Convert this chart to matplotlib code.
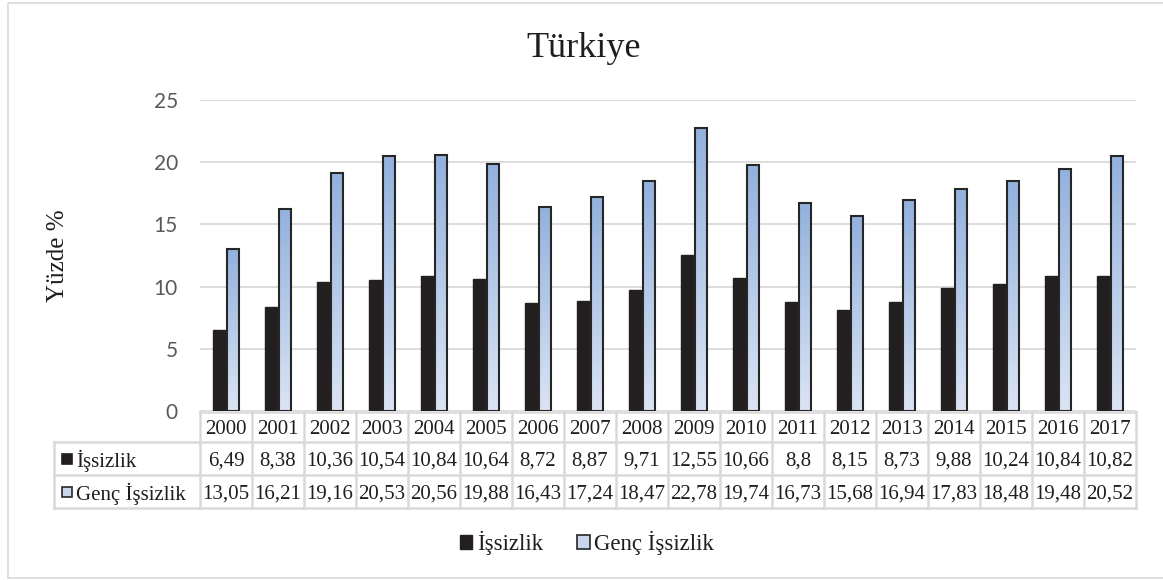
import numpy as np
import matplotlib.pyplot as plt
from matplotlib.colors import LinearSegmentedColormap
from matplotlib.patches import Patch, Rectangle
from matplotlib.transforms import blended_transform_factory

plt.rcParams['font.family'] = ['Liberation Serif', 'DejaVu Serif']

years = [str(y) for y in range(2000, 2018)]
issizlik = [6.49, 8.38, 10.36, 10.54, 10.84, 10.64, 8.72, 8.87, 9.71,
            12.55, 10.66, 8.8, 8.15, 8.73, 9.88, 10.24, 10.84, 10.82]
genc_issizlik = [13.05, 16.21, 19.16, 20.53, 20.56, 19.88, 16.43, 17.24, 18.47,
                 22.78, 19.74, 16.73, 15.68, 16.94, 17.83, 18.48, 19.48, 20.52]
series_names = ['İşsizlik', 'Genç İşsizlik']
yticks = [0, 5, 10, 15, 20, 25]

W, H = 1163, 580
BLACK = '#231f20'
EDGE = '#262626'
TEXT = '#1e1e1e'
GRID = '#d9d9d9'
blue_grad = LinearSegmentedColormap.from_list('blue_grad', ['#dbe4f4', '#93b1dd'])


def fmt(v):
    return f"{v:g}".replace('.', ',')


fig = plt.figure(figsize=(W / 100, H / 100), dpi=100)
ax = fig.add_axes([200 / W, (H - 411) / H, 936 / W, 311 / H])

x = np.arange(len(years))
bw = 0.24
off = 0.135

ax.bar(x - off, issizlik, bw, color=BLACK, edgecolor=BLACK, lw=1, zorder=3)
blue_bars = ax.bar(x + off, genc_issizlik, bw, color='none', edgecolor=EDGE,
                   lw=1.5, zorder=4)

# vertical gradient inside each youth bar (darker at the top)
grad = np.linspace(0, 1, 256).reshape(-1, 1)
for rect in blue_bars:
    x0 = rect.get_x()
    h = rect.get_height()
    im = ax.imshow(grad, extent=[x0, x0 + rect.get_width(), 0, h], origin='lower',
                   aspect='auto', cmap=blue_grad, zorder=3.5)
    im.set_clip_path(rect)

ax.set_xlim(-0.5, len(years) - 0.5)
ax.set_ylim(0, 25)
ax.set_yticks(yticks)
ax.set_xticks([])
ax.tick_params(axis='y', length=0, pad=16, labelsize=15, labelcolor='#595959')
for lbl in ax.get_yticklabels():
    lbl.set_family('Lato')
ax.grid(axis='y', color=GRID, lw=1.3)
ax.set_axisbelow(True)
for s in ax.spines.values():
    s.set_visible(False)

fig.text(584 / W, 1 - 57 / H, 'Türkiye', fontsize=26, ha='center', va='baseline',
         color=TEXT)
fig.text(58 / W, 1 - 256 / H, 'Yüzde %', fontsize=18, rotation=90,
         ha='center', va='center', color=TEXT)

# data table under the bars
over = fig.add_axes([0, 0, 1, 1])
over.set_xlim(0, W)
over.set_ylim(H, 0)
over.axis('off')
over.patch.set_visible(False)
tr = blended_transform_factory(ax.transData, over.transData)

rows_y = [412, 442, 475, 508]
lw_cell = 1.8
for i in range(len(years) + 1):
    over.plot([i - 0.5, i - 0.5], [rows_y[0], rows_y[-1]], color=GRID, lw=lw_cell,
              transform=tr, solid_capstyle='projecting')
over.plot([200, 1136], [rows_y[0]] * 2, color=GRID, lw=lw_cell)
for yy in rows_y[1:]:
    over.plot([54, 1136], [yy, yy], color=GRID, lw=lw_cell)
over.plot([54, 54], [rows_y[1], rows_y[-1]], color=GRID, lw=lw_cell)

for i, yr in enumerate(years):
    over.text(i, (rows_y[0] + rows_y[1]) / 2, yr, transform=tr, fontsize=15,
              ha='center', va='center_baseline', color=TEXT)
    over.text(i, (rows_y[1] + rows_y[2]) / 2, fmt(issizlik[i]), transform=tr,
              fontsize=15, ha='center', va='center_baseline', color=TEXT)
    over.text(i, (rows_y[2] + rows_y[3]) / 2, fmt(genc_issizlik[i]), transform=tr,
              fontsize=15, ha='center', va='center_baseline', color=TEXT)

row_styles = [dict(fc=BLACK, ec=BLACK), dict(fc='#c9d7ee', ec=EDGE)]
for r, (name, st) in enumerate(zip(series_names, row_styles)):
    yc = (rows_y[r + 1] + rows_y[r + 2]) / 2
    over.add_patch(Rectangle((62, yc - 5), 10, 10, lw=1.2, **st))
    over.text(76, yc, name, fontsize=15, ha='left', va='center_baseline',
              color=TEXT)

# chart area border
over.add_patch(Rectangle((8, 3), 1170, 575, fill=False, ec=GRID, lw=1.2))

handles = [Patch(fc=BLACK, ec=BLACK), Patch(fc='#c9d7ee', ec=EDGE, lw=1.2)]
leg = fig.legend(handles, series_names, loc='center',
                 bbox_to_anchor=(587 / W, 1 - 543 / H), ncol=2, frameon=False,
                 prop={'size': 16.5}, handlelength=0.55, handleheight=0.55,
                 handletextpad=0.2, columnspacing=1.5)
for t in leg.get_texts():
    t.set_color(TEXT)

fig.savefig('out.png', dpi=100)
